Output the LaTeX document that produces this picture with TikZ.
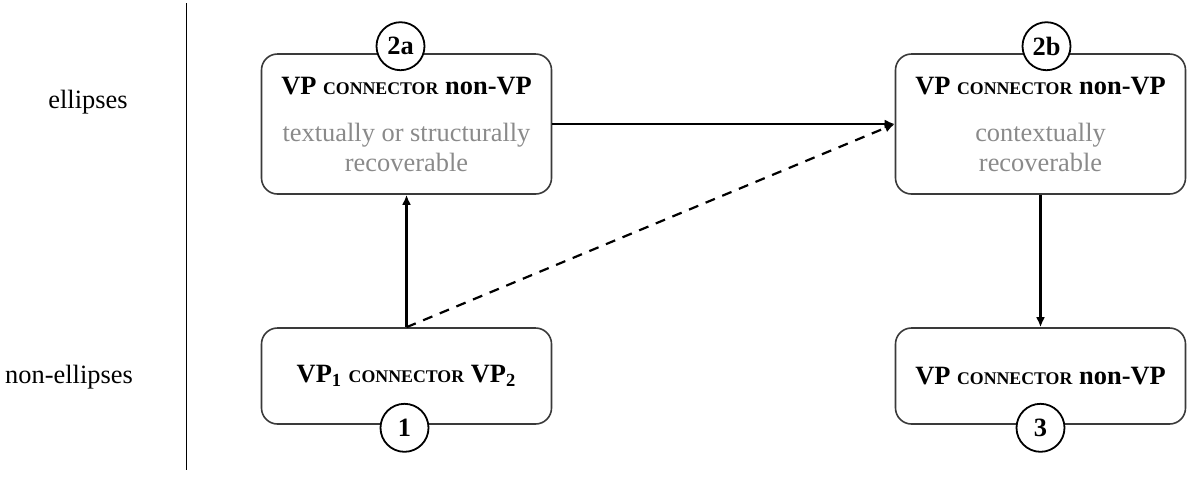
\documentclass[tikz,border=0pt]{standalone}
\usepackage{fontspec}
\setmainfont{Liberation Serif}
\usetikzlibrary{arrows.meta,positioning}
\definecolor{recov}{HTML}{8A8A8A}
\definecolor{boxline}{HTML}{3A3A3A}
\newcommand{\conn}{{\fontsize{8.9}{10}\selectfont\bfseries CONNECTOR}}
\newcommand{\rec}[1]{\textcolor{recov}{#1}}
\begin{document}
\begin{tikzpicture}[x=0.5pt,y=-0.5pt,font=\fontsize{13.2}{14.5}\selectfont,
    caja/.style={draw=boxline,line width=0.8pt,rounded corners=8pt,minimum width=145pt,align=center,inner sep=0pt},
    num/.style={draw,circle,fill=white,line width=0.9pt,minimum size=24pt,inner sep=0pt,font=\fontsize{13.2}{14}\selectfont\bfseries},
    flecha/.style={line width=1.1pt,-{Latex[length=5pt,width=4.5pt]}}]
    \useasboundingbox (0,0) rectangle (1188,478);

    %Separador y etiquetas
    \coordinate (arriba) at (186.5,3);
    \coordinate (abajo) at (186.5,470);
    \draw[line width=0.8pt] (arriba) -- (abajo);
    \node (eli) at (88,102) {ellipses};
    \node (noeli) at (69,377) {non-ellipses};

    %Cajas
    \node[caja,minimum height=70pt] (s2a) at (406.5,124) {\textbf{VP} \conn{} \textbf{non-VP}\\[9pt]\rec{textually or structurally}\\[0.5pt]\rec{recoverable}};
    \node[caja,minimum height=70pt] (s2b) at (1040.5,124) {\textbf{VP} \conn{} \textbf{non-VP}\\[9pt]\rec{contextually}\\[0.5pt]\rec{recoverable}};
    \node[caja,minimum height=48pt] (s1) at (406.5,376) {\textbf{VP\textsubscript{1}} \conn{} \textbf{VP\textsubscript{2}}};
    \node[caja,minimum height=48pt] (s3) at (1040.5,376) {\textbf{VP} \conn{} \textbf{non-VP}};

    %Numeros
    \node[num] (n2a) at ([xshift=-3pt,yshift=3.5pt]s2a.north) {2a};
    \node[num] (n2b) at ([xshift=3pt,yshift=3.5pt]s2b.north) {2b};
    \node[num] (n1) at ([xshift=-1pt,yshift=-1.5pt]s1.south) {1};
    \node[num] (n3) at ([yshift=-1.5pt]s3.south) {3};

    %Flechas
    \draw[flecha] (s1.north) -- (s2a.south);
    \draw[flecha] (s2a.east) -- (s2b.west);
    \draw[flecha,dashed,dash pattern=on 5pt off 4pt] (s1.north) -- (s2b.west);
    \draw[flecha] (s2b.south) -- (s3.north);
\end{tikzpicture}
\end{document}
